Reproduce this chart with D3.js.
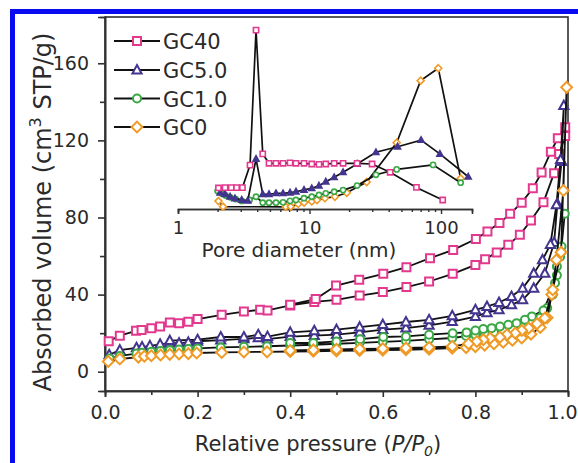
<!DOCTYPE html>
<html><head><meta charset="utf-8">
<script src="https://cdn.jsdelivr.net/npm/d3@7"></script>
<style>
body{margin:0;background:#fff}
svg{display:block}
text{font-family:"DejaVu Sans",Verdana,sans-serif;fill:#2a2a2a}
</style>
</head><body>
<svg id="chart" width="578" height="463"></svg>
<script>
// ---------------- DATA ----------------
const SERIES = ["GC40", "GC5.0", "GC1.0", "GC0"];
const COLORS = ["#e2388e", "#43358f", "#3aa845", "#f09a26"];
const X_TICKS = [0, 0.2, 0.4, 0.6, 0.8, 1.0];
const Y_TICKS = [0, 40, 80, 120, 160];
const PORE_TICKS = [1, 10, 100];

// Isotherms: [relative pressure, absorbed volume]
const GC40_ADS = [[0.008,15.8],[0.032,18.7],[0.067,21.2],[0.079,21.6],[0.1,22.6],[0.119,23.5],[0.14,25.5],[0.16,25.2],[0.18,25.9],[0.2,27.3],[0.252,29.5],[0.3,31.2],[0.335,32.1],[0.351,31.8],[0.4,34.4],[0.452,36.2],[0.5,37.3],[0.55,39.5],[0.6,41.3],[0.651,43.9],[0.7,46.8],[0.751,50.8],[0.8,55.4],[0.821,58.4],[0.846,61.8],[0.871,65.8],[0.896,71],[0.92,78.4],[0.947,87.9],[0.97,103],[0.981,113],[0.994,122.3],[0.994,126.8]];
const GC40_DES = [[0.994,126.8],[0.978,121.1],[0.963,114.1],[0.943,103.3],[0.924,95.2],[0.9,87.7],[0.875,81.9],[0.852,77.1],[0.826,72.7],[0.801,68.8],[0.752,63.2],[0.702,58.9],[0.651,54.2],[0.601,50.8],[0.549,47.7],[0.499,44.7],[0.455,37.7],[0.4,34.8]];

const GC50_ADS = [[0.009,8.8],[0.032,11.2],[0.068,12.4],[0.08,12.8],[0.097,13.4],[0.119,14.2],[0.14,15],[0.16,14.8],[0.18,15.2],[0.2,15.8],[0.25,16.4],[0.3,17],[0.331,17.6],[0.351,16.9],[0.4,18.2],[0.452,18.7],[0.5,19.2],[0.55,20.4],[0.6,21.8],[0.65,22.6],[0.7,24],[0.75,26],[0.8,28.6],[0.825,30.6],[0.851,32.1],[0.878,34.7],[0.902,37.3],[0.926,43.3],[0.95,51],[0.97,67],[0.977,87],[0.986,109],[0.991,138]];
const GC50_DES = [[0.991,138],[0.984,110],[0.975,86.5],[0.962,66],[0.945,58],[0.926,51],[0.902,43.3],[0.878,39],[0.851,35.9],[0.825,33.8],[0.8,32.1],[0.75,29],[0.7,26.9],[0.65,25.8],[0.6,24.4],[0.55,23.1],[0.5,21.8],[0.452,21.2],[0.4,20.4],[0.351,18.2],[0.331,19.2],[0.3,18],[0.25,18],[0.2,16.6],[0.14,16.1]];

const GC10_ADS = [[0.01,6.8],[0.032,8.2],[0.068,9.4],[0.08,9.8],[0.1,10.3],[0.12,10.8],[0.14,11.2],[0.16,11.5],[0.18,11.8],[0.2,12.1],[0.25,12.6],[0.3,12.9],[0.35,13.2],[0.4,13.6],[0.45,14],[0.5,14.5],[0.55,15],[0.6,15.5],[0.65,16],[0.7,16.8],[0.75,17.5],[0.78,18.5],[0.8,19],[0.82,19.8],[0.84,20.5],[0.86,21.3],[0.88,22],[0.9,23.5],[0.92,25.5],[0.94,28],[0.955,33],[0.967,40],[0.976,50],[0.985,62],[0.993,82]];
const GC10_DES = [[0.993,82],[0.986,65],[0.983,59.7],[0.976,54.6],[0.972,46],[0.947,31.8],[0.922,28.7],[0.907,26.9],[0.889,25.2],[0.871,24.4],[0.853,23.5],[0.835,22.6],[0.817,22.1],[0.8,21.4],[0.781,20.4],[0.751,20],[0.7,19.2],[0.65,18.3],[0.601,18],[0.551,16.9],[0.5,15.7],[0.45,14.9],[0.4,14.9]];

const GC0_ADS = [[0.007,5.3],[0.032,6.6],[0.072,7.6],[0.085,8],[0.1,8.3],[0.12,8.7],[0.14,9],[0.16,9.2],[0.18,9.4],[0.198,9.7],[0.252,10],[0.3,10.2],[0.35,10.3],[0.4,10.5],[0.45,10.6],[0.5,10.8],[0.55,11],[0.6,11.2],[0.65,11.4],[0.7,11.7],[0.75,12.2],[0.78,12.5],[0.8,13],[0.82,13.8],[0.84,14.5],[0.86,15.3],[0.88,16.3],[0.9,17.5],[0.92,19.5],[0.94,23],[0.955,28],[0.965,40],[0.975,58],[0.99,94],[0.997,147.5]];
const GC0_DES = [[0.997,147.5],[0.985,62],[0.967,42.5],[0.95,27.8],[0.933,24.9],[0.915,22.6],[0.9,21.4],[0.886,20],[0.868,19.2],[0.853,17.9],[0.832,17.4],[0.817,16.6],[0.803,15.7],[0.785,14.5],[0.75,13.2],[0.7,12.6],[0.65,12.3],[0.6,12],[0.55,11.8],[0.5,11.6],[0.45,11.3],[0.4,11]];

// Inset pore size distributions: [pore diameter (nm), dV/dlogD (a.u.)]
const PSD_GC40 = [[2.03,0.117],[2.28,0.119],[2.54,0.119],[2.79,0.119],[3.09,0.119],[3.53,0.244],[3.92,0.994],[4.41,0.306],[4.92,0.254],[5.56,0.254],[6.29,0.254],[7.11,0.256],[7.89,0.254],[9.08,0.254],[10.4,0.25],[11.8,0.248],[13.3,0.25],[15.4,0.254],[18.0,0.254],[23.0,0.254],[29.9,0.25],[41,0.204],[65,0.12],[103,0.05]];
const PSD_GC50 = [[2.09,0.091],[2.28,0.082],[2.49,0.068],[2.71,0.059],[3.05,0.05],[3.39,0.046],[3.92,0.278],[4.41,0.082],[4.92,0.082],[5.56,0.087],[6.29,0.087],[7.11,0.091],[7.89,0.096],[9.08,0.106],[10.4,0.115],[11.8,0.129],[13.3,0.152],[15.4,0.176],[18.0,0.204],[23.0,0.25],[32,0.315],[46.7,0.346],[70.5,0.383],[98,0.306],[161,0.179]];
const PSD_GC10 = [[2.0,0.1],[2.15,0.086],[2.3,0.075],[2.5,0.065],[2.75,0.055],[3.05,0.045],[3.5,0.05],[3.92,0.068],[4.41,0.035],[4.92,0.035],[5.56,0.035],[6.29,0.037],[7.11,0.045],[7.89,0.05],[9.08,0.06],[10.4,0.068],[11.8,0.078],[13.3,0.087],[15.4,0.096],[18.0,0.105],[23.0,0.13],[32,0.19],[46,0.22],[87,0.245],[141,0.146]];
const PSD_GC0 = [[2.03,0.044],[2.2,0.013],[6.6,0.012],[7.2,0.013],[8.2,0.028],[9.1,0.036],[10.4,0.042],[11.4,0.05],[13.1,0.06],[15.6,0.068],[19.2,0.09],[27.2,0.15],[46,0.368],[70,0.713],[95.3,0.782],[141,0.17]];

const ISOTHERMS = [[GC40_ADS, GC40_DES], [GC50_ADS, GC50_DES], [GC10_ADS, GC10_DES], [GC0_ADS, GC0_DES]];
const PSDS = [PSD_GC40, PSD_GC50, PSD_GC10, PSD_GC0];

// ---------------- DRAW ----------------
const svg = d3.select("#chart");
const BLUE = "#0a0af0";
svg.append("rect").attr("x", 10).attr("y", 9).attr("width", 568).attr("height", 5).attr("fill", BLUE);
svg.append("rect").attr("x", 10).attr("y", 9).attr("width", 5).attr("height", 454).attr("fill", BLUE);

const x = d3.scaleLinear().domain([0, 1]).range([105, 568]);
const y = d3.scaleLinear().domain([-10, 184]).range([391, 17]);
const xi = d3.scaleLog().domain([1, 172]).range([178, 472]);
const yi = d3.scaleLinear().domain([0, 1]).range([209, 29]);

// marker shapes
function markerPath(i, s) {
  if (i === 0) return `M${-s},${-s}H${s}V${s}H${-s}Z`;
  if (i === 1) return `M0,${-s*1.25}L${s*1.15},${s*0.85}H${-s*1.15}Z`;
  if (i === 2) return `M${-s},0A${s},${s} 0 1,0 ${s},0A${s},${s} 0 1,0 ${-s},0Z`;
  return `M0,${-s*1.35}L${s*1.35},0L0,${s*1.35}L${-s*1.35},0Z`;
}

const AX = "#303030";
const FONT = '"DejaVu Sans",Verdana,sans-serif';
// frame
svg.append("rect").attr("x", 105).attr("y", 17).attr("width", 463).attr("height", 374)
  .attr("fill", "none").attr("stroke", AX).attr("stroke-width", 1.6);

// x axis
const gx = svg.append("g").attr("transform", "translate(0,391)");
gx.call(d3.axisBottom(x).tickValues(X_TICKS).tickFormat(d3.format(".1f")).tickSize(6).tickPadding(9));
gx.append("g").call(d3.axisBottom(x).tickValues([0.1, 0.3, 0.5, 0.7, 0.9]).tickFormat("").tickSize(4));
// y axis
const gy = svg.append("g").attr("transform", "translate(105,0)");
gy.call(d3.axisLeft(y).tickValues(Y_TICKS).tickSize(7).tickPadding(9));
gy.append("g").call(d3.axisLeft(y).tickValues([20, 60, 100, 140]).tickFormat("").tickSize(5));
[gx, gy].forEach(g => {
  g.selectAll("path.domain").attr("stroke", AX).attr("stroke-width", 1.6);
  g.selectAll(".tick line").attr("stroke", AX).attr("stroke-width", 1.6);
  g.selectAll(".tick text").attr("fill", "#2a2a2a").style("font-size", "19px").style("font-family", FONT);
});
// keep the last x label inside the picture, as in the reference
gx.selectAll(".tick text").filter(d => d === 1).attr("dx", -6);

// axis titles
const xt = svg.append("text").attr("x", 318).attr("y", 451).attr("text-anchor", "middle").style("font-size", "21px");
xt.append("tspan").text("Relative pressure (");
xt.append("tspan").style("font-style", "italic").text("P/P");
xt.append("tspan").style("font-style", "italic").style("font-size", "14px").attr("dy", 5).text("0");
xt.append("tspan").attr("dy", -5).text(")");

const yt = svg.append("text").attr("transform", "translate(51,212) rotate(-90)").attr("text-anchor", "middle").style("font-size", "24px");
yt.append("tspan").text("Absorbed volume (cm");
yt.append("tspan").style("font-size", "16px").attr("dy", -10).text("3");
yt.append("tspan").attr("dy", 10).text(" STP/g)");

// isotherms
const line = d3.line().x(d => x(d[0])).y(d => y(d[1]));
ISOTHERMS.forEach(([ads, des], i) => {
  const all = ads.concat(des.slice(1));
  svg.append("path").attr("d", line(all)).attr("fill", "none").attr("stroke", "#111").attr("stroke-width", 1.8);
  svg.append("g").selectAll("path").data(all).join("path")
    .attr("transform", d => `translate(${x(d[0])},${y(d[1])})`)
    .attr("d", markerPath(i, 4))
    .attr("fill", "#fff").attr("stroke", COLORS[i]).attr("stroke-width", 2);
});

// inset axis
const gi = svg.append("g").attr("transform", "translate(0,209)");
gi.call(d3.axisBottom(xi).tickValues(PORE_TICKS).tickFormat(d3.format("d")).tickSize(5).tickPadding(7));
gi.append("g").call(d3.axisBottom(xi).tickValues([2,3,4,5,6,7,8,9,20,30,40,50,60,70,80,90]).tickFormat("").tickSize(3));
gi.selectAll("path.domain").attr("stroke", AX).attr("stroke-width", 1.6);
gi.selectAll(".tick line").attr("stroke", AX).attr("stroke-width", 1.4);
gi.selectAll(".tick text").attr("fill", "#2a2a2a").style("font-size", "18px").style("font-family", FONT);
svg.append("text").attr("x", 299).attr("y", 257).attr("text-anchor", "middle").style("font-size", "20px").text("Pore diameter (nm)");

const iline = d3.line().x(d => xi(d[0])).y(d => yi(d[1]));
[3, 2, 1, 0].forEach(i => {
  const data = PSDS[i];
  svg.append("path").attr("d", iline(data)).attr("fill", "none").attr("stroke", "#111").attr("stroke-width", 1.7);
  svg.append("g").selectAll("path").data(data).join("path")
    .attr("transform", d => `translate(${xi(d[0])},${yi(d[1])})`)
    .attr("d", markerPath(i, 2.6))
    .attr("fill", i === 1 ? COLORS[i] : "#fff").attr("stroke", COLORS[i]).attr("stroke-width", 1.6);
});

// legend
const LEG_Y = [41, 70, 98.5, 127];
SERIES.forEach((name, i) => {
  const g = svg.append("g").attr("transform", `translate(0,${LEG_Y[i]})`);
  g.append("line").attr("x1", 114).attr("x2", 160).attr("y1", 0).attr("y2", 0).attr("stroke", "#111").attr("stroke-width", 1.8);
  g.append("path").attr("transform", "translate(137,0)").attr("d", markerPath(i, 4))
    .attr("fill", "#fff").attr("stroke", COLORS[i]).attr("stroke-width", 2);
  g.append("text").attr("x", 163).attr("y", 8).style("font-size", "21px").text(name);
});
</script>
</body></html>
